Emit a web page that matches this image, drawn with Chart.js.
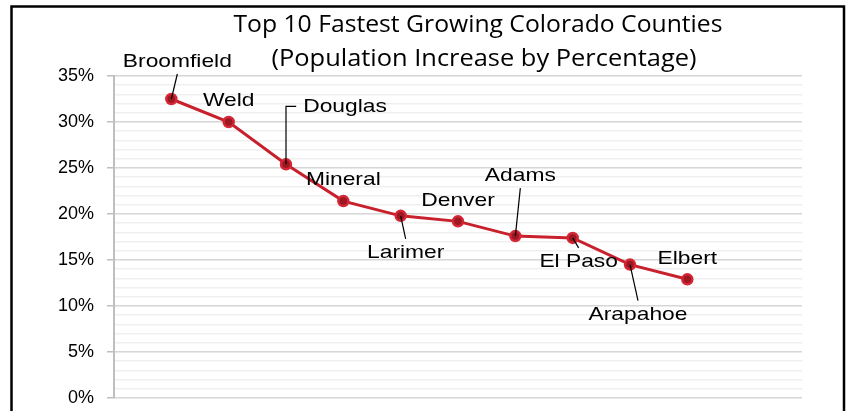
<!DOCTYPE html>
<html>
<head>
<meta charset="utf-8">
<script src="https://cdn.jsdelivr.net/npm/chart.js@4"></script>
<style>
  body { margin: 0; background: #fff; }
  #box { width: 849px; height: 411px; }
</style>
</head>
<body>
<div id="box"><canvas id="myChart" width="849" height="411"></canvas></div>
<script>
const counties = ['Broomfield', 'Weld', 'Douglas', 'Mineral', 'Larimer', 'Denver', 'Adams', 'El Paso', 'Arapahoe', 'Elbert'];
const growthPct = [32.5, 30.0, 25.4, 21.4, 19.8, 19.2, 17.6, 17.4, 14.5, 12.9];
const titleLines = ['Top 10 Fastest Growing Colorado Counties', '(Population Increase by Percentage)'];

// empty slots so the points sit like in the picture
const xLabels = [''].concat(counties, ['', '']);
const yData = [null].concat(growthPct, [null, null]);

// where each name goes relative to its point, and its leader line
const labelPlacement = [
  { dx: 6, dy: -37, leader: 'line' },
  { dx: 0, dy: -21, leader: 'none' },
  { dx: 59, dy: -58, leader: 'elbow' },
  { dx: 0, dy: -21, leader: 'none' },
  { dx: 5, dy: 37, leader: 'line' },
  { dx: 0, dy: -21, leader: 'none' },
  { dx: 5, dy: -60, leader: 'line' },
  { dx: 6, dy: 24, leader: 'line' },
  { dx: 8, dy: 50, leader: 'line' },
  { dx: 0, dy: -21, leader: 'none' },
];

function stretchedText(ctx, text, x, y, sx) {
  ctx.save();
  ctx.translate(x, y);
  ctx.scale(sx, 1);
  ctx.fillText(text, 0, 0);
  ctx.restore();
}

const framePlugin = {
  id: 'frame',
  beforeDraw(chart) {
    const ctx = chart.ctx;
    ctx.save();
    ctx.fillStyle = '#fff';
    ctx.fillRect(0, 0, chart.width, chart.height);
    ctx.restore();
  },
  afterDraw(chart) {
    const ctx = chart.ctx;
    ctx.save();
    ctx.strokeStyle = '#000';
    ctx.lineWidth = 2.5;
    ctx.strokeRect(11.5, 6.5, 832.5, 430);

    // title
    ctx.fillStyle = '#000';
    ctx.font = '24px "Open Sans"';
    ctx.textAlign = 'center';
    ctx.textBaseline = 'alphabetic';
    const sx1 = 489 / ctx.measureText(titleLines[0]).width;
    const sx2 = 425 / ctx.measureText(titleLines[1]).width;
    stretchedText(ctx, titleLines[0], 478, 32, sx1);
    stretchedText(ctx, titleLines[1], 484, 66, sx2);
    ctx.restore();
  },
};

const labelPlugin = {
  id: 'pointNames',
  afterDatasetsDraw(chart) {
    const ctx = chart.ctx;
    const meta = chart.getDatasetMeta(0);
    const sx = 1.2;
    ctx.save();
    ctx.font = '19px "Liberation Sans", Arial';
    ctx.textAlign = 'center';
    ctx.textBaseline = 'middle';
    counties.forEach((name, i) => {
      const pt = meta.data[i + 1];
      const p = labelPlacement[i];
      const lx = pt.x + p.dx;
      const ly = pt.y + p.dy;
      ctx.strokeStyle = '#000';
      ctx.lineWidth = 1.2;
      if (p.leader === 'line') {
        const endY = p.dy < 0 ? ly + 12 : ly - 14;
        ctx.beginPath();
        ctx.moveTo(pt.x, pt.y);
        ctx.lineTo(lx, endY);
        ctx.stroke();
      } else if (p.leader === 'elbow') {
        const w = ctx.measureText(name).width * sx;
        ctx.beginPath();
        ctx.moveTo(pt.x, pt.y);
        ctx.lineTo(pt.x, ly);
        ctx.lineTo(lx - w / 2 - 7, ly);
        ctx.stroke();
      }
      ctx.fillStyle = '#000';
      stretchedText(ctx, name, lx, ly, sx);
    });
    ctx.restore();
  },
};

const ctx = document.getElementById('myChart');

new Chart(ctx, {
  type: 'line',
  data: {
    labels: xLabels,
    datasets: [
      {
        data: yData,
        borderColor: '#c8202c',
        borderWidth: 3,
        pointRadius: 5,
        pointBorderWidth: 2.5,
        pointBackgroundColor: '#9e1824',
        pointBorderColor: '#d42634',
        tension: 0,
      },
    ],
  },
  options: {
    responsive: false,
    animation: false,
    events: [],
    layout: {
      padding: { top: 76, bottom: 13, right: 47, left: 0 },
    },
    plugins: {
      legend: { display: false },
      tooltip: { enabled: false },
    },
    scales: {
      x: {
        display: false,
        offset: false,
      },
      y: {
        min: 0,
        max: 35,
        afterFit: scale => {
          scale.width = 114;
          scale.paddingTop = 0;
          scale.paddingBottom = 0;
        },
        border: { color: '#bfbfbf', width: 2 },
        grid: {
          color: c => (c.tick.value % 5 === 0 ? '#d6d6d6' : '#efefef'),
          lineWidth: 1.5,
          tickLength: 7,
          tickColor: c => (c.tick.value % 5 === 0 ? '#bfbfbf' : 'rgba(0,0,0,0)'),
        },
        ticks: {
          stepSize: 1,
          autoSkip: false,
          padding: 13,
          color: '#000',
          font: { family: '"Liberation Sans", Arial', size: 18 },
          callback: v => (v % 5 === 0 ? v + '%' : ''),
        },
      },
    },
  },
  plugins: [framePlugin, labelPlugin],
});
</script>
</body>
</html>
